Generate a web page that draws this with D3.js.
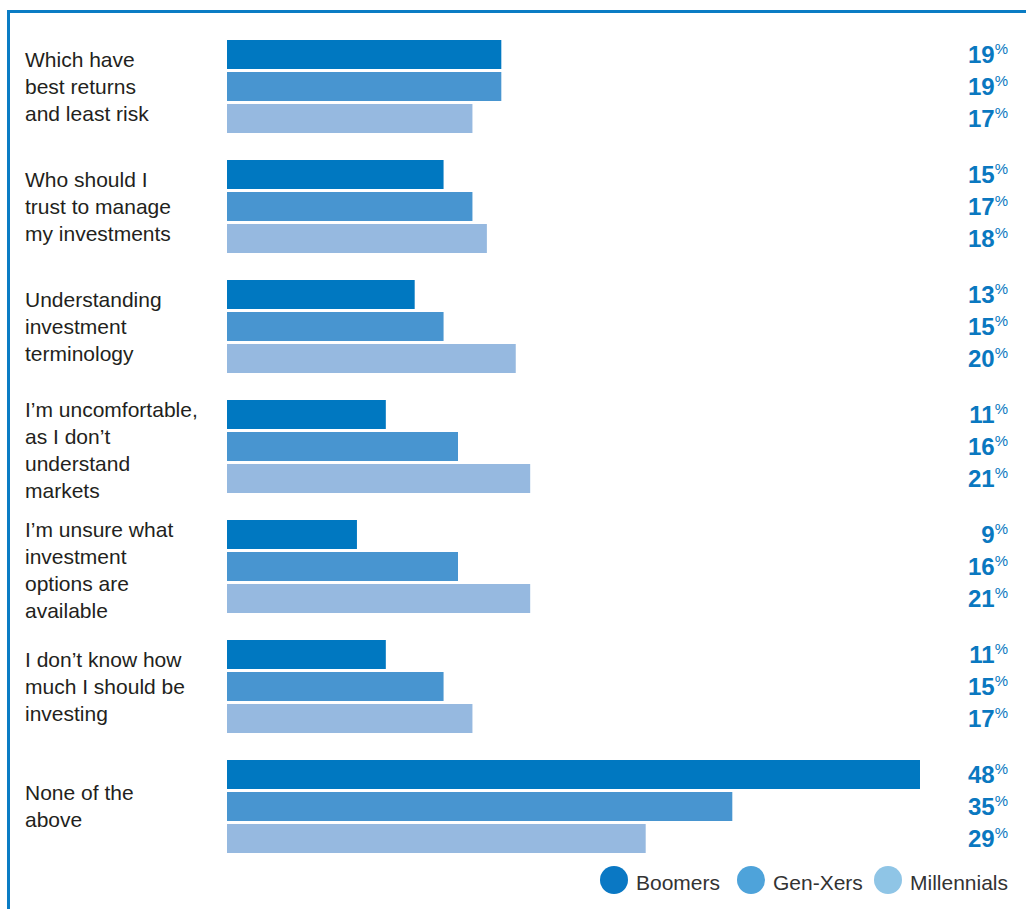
<!DOCTYPE html>
<html>
<head>
<meta charset="utf-8">
<script src="https://d3js.org/d3.v7.min.js"></script>
<style>
  body { margin: 0; background: #ffffff; }
  svg { display: block; }
</style>
</head>
<body>
<div id="my_dataviz"></div>
<script>

// categories (one entry per question, lines split with |)
var categories = [
  "Which have|best returns|and least risk",
  "Who should I|trust to manage|my investments",
  "Understanding|investment|terminology",
  "I\u2019m uncomfortable,|as I don\u2019t|understand|markets",
  "I\u2019m unsure what|investment|options are|available",
  "I don\u2019t know how|much I should be|investing",
  "None of the|above"
];
var seriesNames = ["Boomers", "Gen-Xers", "Millennials"];
var boomers     = [19, 15, 13, 11,  9, 11, 48];
var genXers     = [19, 17, 15, 16, 16, 15, 35];
var millennials = [17, 18, 20, 21, 21, 17, 29];

var barColors    = ["#0078c1", "#4895d0", "#96b9e0"];
var legendColors = ["#0a78c4", "#4ea3da", "#8fc5e6"];

var width = 1026, height = 909;

var svg = d3.select("#my_dataviz")
  .append("svg")
    .attr("width", width)
    .attr("height", height);

// frame: top and left blue rules
svg.append("rect").attr("x", 7).attr("y", 10).attr("width", width - 7).attr("height", 3).attr("fill", "#0a7cc4");
svg.append("rect").attr("x", 7).attr("y", 10).attr("width", 3).attr("height", height - 10).attr("fill", "#0a7cc4");

var data = categories.map(function(c, i) {
  return { cat: c, values: [boomers[i], genXers[i], millennials[i]] };
});

// scales
var x = d3.scaleLinear().domain([0, 48]).range([227, 920]);
var y = d3.scaleBand()
  .domain(categories)
  .range([40, 853])
  .paddingInner(0.225)
  .paddingOuter(0);
var ySub = d3.scaleBand()
  .domain(seriesNames)
  .range([0, y.bandwidth()])
  .paddingInner(0.094)
  .paddingOuter(0);

var groups = svg.append("g")
  .selectAll("g")
  .data(data)
  .enter()
  .append("g")
    .attr("transform", function(d) { return "translate(0," + y(d.cat) + ")"; });

// bars
groups.selectAll("rect")
  .data(function(d) { return d.values.map(function(v, j) { return { key: seriesNames[j], value: v, j: j }; }); })
  .enter().append("rect")
    .attr("x", x(0))
    .attr("y", function(d) { return ySub(d.key); })
    .attr("width", function(d) { return x(d.value) - x(0); })
    .attr("height", ySub.bandwidth())
    .attr("fill", function(d) { return barColors[d.j]; });

// value labels, right aligned
var vals = groups.selectAll("text.val")
  .data(function(d) { return d.values.map(function(v, j) { return { key: seriesNames[j], value: v }; }); })
  .enter().append("text")
    .attr("class", "val")
    .attr("x", 1008)
    .attr("y", function(d) { return ySub(d.key) + ySub.bandwidth() / 2 + 8.5; })
    .attr("text-anchor", "end")
    .attr("fill", "#0a78c0")
    .style("font-family", "'Liberation Sans Narrow', 'Liberation Sans', sans-serif");
vals.append("tspan")
  .style("font-size", "24px")
  .style("font-weight", "bold")
  .text(function(d) { return d.value; });
vals.append("tspan")
  .attr("dy", -9)
  .style("font-size", "15px")
  .text("%");

// category labels
var lineH = 27;
groups.append("text")
  .attr("fill", "#231f20")
  .style("font-family", "'Liberation Sans Narrow', 'Liberation Sans', sans-serif")
  .style("font-size", "21px")
  .each(function(d) {
    var lines = d.cat.split("|");
    var mid = y.bandwidth() / 2 + 7;
    var first = mid - (lines.length - 1) * lineH / 2;
    if (lines.length == 4) first += 4;
    var t = d3.select(this);
    lines.forEach(function(l, k) {
      t.append("tspan").attr("x", 25).attr("y", first + k * lineH).text(l);
    });
  });

// legend
var legendX = [614, 751, 888];
var legend = svg.append("g")
  .selectAll("g")
  .data(seriesNames)
  .enter().append("g")
    .attr("transform", function(d, i) { return "translate(" + legendX[i] + ",880)"; });
legend.append("circle")
  .attr("r", 14)
  .attr("fill", function(d, i) { return legendColors[i]; });
legend.append("text")
  .attr("x", 22)
  .attr("y", 10)
  .attr("fill", "#333333")
  .style("font-family", "'Liberation Sans Narrow', 'Liberation Sans', sans-serif")
  .style("font-size", "21px")
  .text(function(d) { return d; });

</script>
</body>
</html>
